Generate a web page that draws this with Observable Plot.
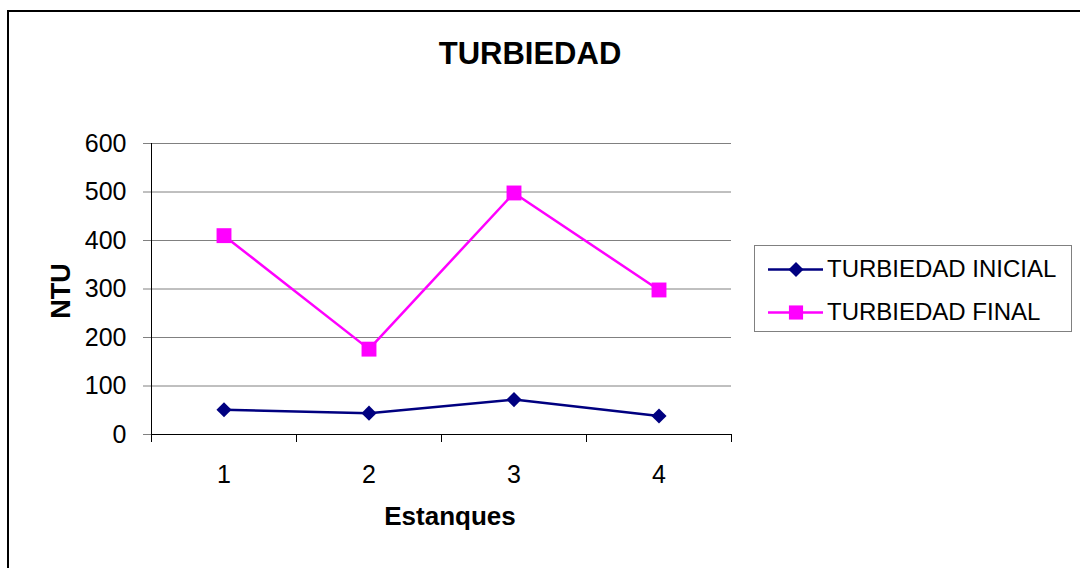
<!DOCTYPE html>
<html><head><meta charset="utf-8">
<script src="https://cdn.jsdelivr.net/npm/d3@7"></script>
<script src="https://cdn.jsdelivr.net/npm/@observablehq/plot@0.6"></script>
<style>
body{margin:0;background:#fff;}
#wrap{position:relative;width:1080px;height:568px;overflow:hidden;font-family:"Liberation Sans",Arial,sans-serif;color:#000;background:#fff;}
#frame{position:absolute;left:7px;top:10px;width:1100px;height:600px;border:2px solid #000;box-sizing:border-box;}
#chart{position:absolute;left:0;top:0;}
.t{position:absolute;line-height:1;white-space:nowrap;}
#legend{position:absolute;left:754px;top:245px;width:318px;height:87px;border:1px solid #808080;box-sizing:border-box;background:#fff;}
</style></head>
<body>
<div id="wrap">
  <div id="frame"></div>
  <div id="chart"></div>
  <div class="t" id="title" style="left:530px;top:38px;font-size:31px;font-weight:bold;transform:translateX(-50%);">TURBIEDAD</div>
  <div class="t" id="ylab" style="left:61px;top:291px;font-size:27px;font-weight:bold;transform:translate(-50%,-50%) rotate(-90deg);">NTU</div>
  <div class="t" id="xlab" style="left:450px;top:503px;font-size:26px;font-weight:bold;transform:translateX(-50%);">Estanques</div>
  <div id="legend"></div>
</div>
<script>
// Data
const estanques = [1, 2, 3, 4];
const turbInicial = [51, 44, 72, 38];
const turbFinal = [410, 176, 498, 298];
const yTicks = [0, 100, 200, 300, 400, 500, 600];
const seriesNames = ["TURBIEDAD INICIAL", "TURBIEDAD FINAL"];
const seriesColors = ["#000080", "#FF00FF"];
const seriesSymbols = ["diamond2", "square"];

const boundaries = [estanques[0] - 0.5, ...estanques.map(e => e + 0.5)];

const chart = Plot.plot({
  width: 1080,
  height: 568,
  marginLeft: 151,
  marginRight: 349,
  marginTop: 143,
  marginBottom: 134,
  style: {fontFamily: "'Liberation Sans', Arial, sans-serif", fontSize: "25px", color: "#000", background: "transparent", overflow: "visible"},
  x: {type: "linear", domain: [boundaries[0], boundaries[boundaries.length - 1]]},
  y: {domain: [0, 600]},
  marks: [
    Plot.gridY(yTicks, {stroke: "#808080", strokeOpacity: 1, strokeWidth: 1}),
    Plot.axisY(yTicks, {tickSize: 8, tickPadding: 17, stroke: "#808080", fill: "#000", label: null, fontSize: 25, tickFormat: d => String(d)}),
    Plot.axisX(boundaries, {tickSize: 8, tickFormat: () => "", label: null, stroke: "#000"}),
    Plot.axisX(estanques, {tickSize: 0, tickPadding: 31, label: null, fontSize: 25, fill: "#000", tickFormat: d => String(d)}),
    Plot.ruleX([boundaries[0]], {y1: 0, y2: 600, stroke: "#000"}),
    Plot.ruleY([0], {stroke: "#000"}),
    Plot.line(estanques, {x: estanques, y: turbInicial, stroke: seriesColors[0], strokeWidth: 2.5}),
    Plot.dot(estanques, {x: estanques, y: turbInicial, symbol: seriesSymbols[0], r: 6.8, fill: seriesColors[0], stroke: "none"}),
    Plot.line(estanques, {x: estanques, y: turbFinal, stroke: seriesColors[1], strokeWidth: 2.5}),
    Plot.dot(estanques, {x: estanques, y: turbFinal, symbol: seriesSymbols[1], r: 8.4, fill: seriesColors[1], stroke: "none"})
  ]
});
document.getElementById("chart").appendChild(chart);

// Legend
const legend = document.getElementById("legend");
const rowTops = [11, 54];
seriesNames.forEach((name, i) => {
  const row = document.createElement("div");
  row.style.cssText = `position:absolute;left:0;top:${rowTops[i]}px;height:24px;width:316px;`;
  const sw = d3.create("svg").attr("width", 56).attr("height", 24)
    .style("position", "absolute").style("left", "13px").style("top", "0px");
  sw.append("line").attr("x1", 0).attr("x2", 55).attr("y1", 12.5).attr("y2", 12.5)
    .attr("stroke", seriesColors[i]).attr("stroke-width", 2.5);
  const sym = i === 0 ? d3.symbolDiamond2 : d3.symbolSquare;
  const size = i === 0 ? 145 : 200;
  sw.append("path").attr("d", d3.symbol(sym, size)()).attr("transform", "translate(28,12.5)")
    .attr("fill", seriesColors[i]);
  row.appendChild(sw.node());
  const tx = document.createElement("div");
  tx.className = "t";
  tx.style.cssText += "left:72px;top:0;font-size:24px;";
  tx.textContent = name;
  row.appendChild(tx);
  legend.appendChild(row);
});
</script>
</body></html>
